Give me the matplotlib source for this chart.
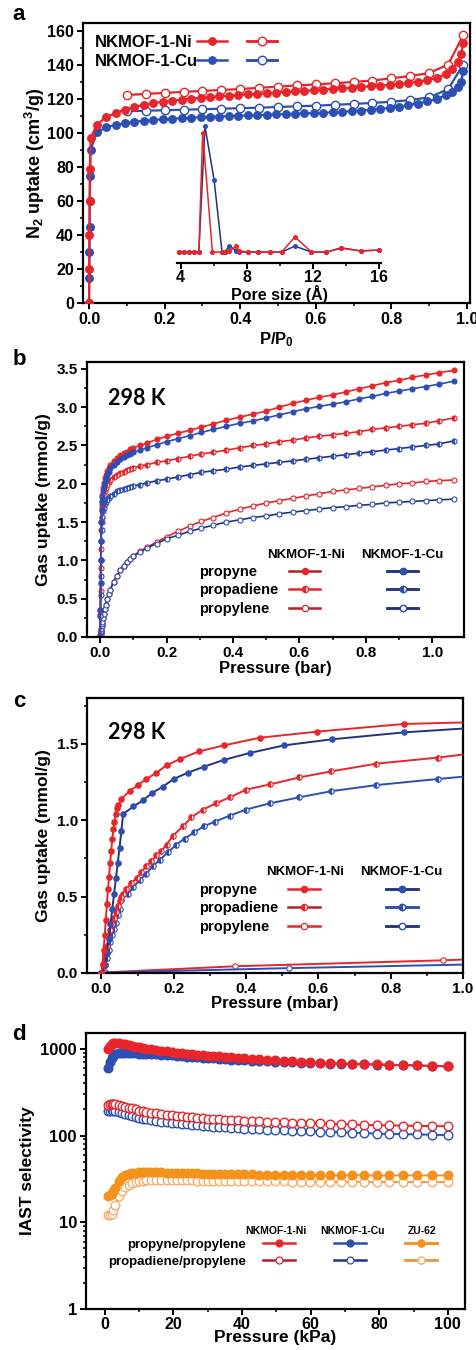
import matplotlib
matplotlib.use("Agg")
import matplotlib.pyplot as plt
from matplotlib.ticker import MultipleLocator, LogLocator, NullFormatter, FixedLocator
from matplotlib.lines import Line2D

plt.rcParams['font.family'] = ['Liberation Sans', 'DejaVu Sans']
plt.rcParams['font.weight'] = 'bold'
plt.rcParams['mathtext.fontset'] = 'custom'
plt.rcParams['mathtext.rm'] = 'Liberation Sans:bold'
plt.rcParams['mathtext.bf'] = 'Liberation Sans:bold'
plt.rcParams['mathtext.default'] = 'bf'

RED = '#e8252b'
DRED = '#b3202a'
BLUE = '#2c4fb4'
DBLUE = '#23347f'
ORANGE = '#f5921e'
LORANGE = '#f4b06a'

# ---------------- Panel a data ----------------
a_ni_ads_p = [0.0, 0.0005, 0.001, 0.0015, 0.002, 0.004, 0.02, 0.045, 0.07, 0.095, 0.12, 0.145, 0.17, 0.195,
              0.22, 0.245, 0.27, 0.295, 0.32, 0.345, 0.37, 0.395, 0.42, 0.445, 0.47, 0.495, 0.52, 0.545,
              0.57, 0.595, 0.62, 0.645, 0.67, 0.695, 0.72, 0.745, 0.77, 0.795, 0.82, 0.845, 0.87, 0.895,
              0.92, 0.945, 0.96, 0.975, 0.985, 0.99]
a_ni_ads_v = [0, 20, 40, 60, 79, 97, 105, 109.5, 112, 114, 115.5, 116.8, 117.8, 118.6,
              119.3, 119.9, 120.4, 120.9, 121.3, 121.7, 122.1, 122.5, 122.9, 123.2, 123.6, 124.0, 124.3, 124.7,
              125.0, 125.4, 125.8, 126.1, 126.5, 126.9, 127.3, 127.7, 128.1, 128.6, 129.1, 129.7, 130.4, 131.3,
              132.6, 135, 138, 142, 147, 153]
a_ni_des_p = [0.1, 0.15, 0.2, 0.25, 0.3, 0.35, 0.4, 0.45, 0.5, 0.55, 0.6, 0.65, 0.7, 0.75, 0.8, 0.85, 0.9, 0.95, 0.99]
a_ni_des_v = [122.6, 123.2, 123.8, 124.4, 125.0, 125.5, 126.1, 126.8, 127.5, 128.2, 128.8, 129.5, 130.3, 131.1,
              132.4, 133.8, 135.5, 140.5, 157.7]
a_cu_ads_p = [0.0, 0.0005, 0.001, 0.0015, 0.002, 0.003, 0.004, 0.02, 0.045, 0.07, 0.095, 0.12, 0.145, 0.17, 0.195,
              0.22, 0.245, 0.27, 0.295, 0.32, 0.345, 0.37, 0.395, 0.42, 0.445, 0.47, 0.495, 0.52, 0.545,
              0.57, 0.595, 0.62, 0.645, 0.67, 0.695, 0.72, 0.745, 0.77, 0.795, 0.82, 0.845, 0.87, 0.895,
              0.92, 0.945, 0.96, 0.975, 0.985, 0.99]
a_cu_ads_v = [0, 15, 30, 45, 60, 75, 90, 100.5, 103.5, 105, 106, 106.8, 107.4, 107.9, 108.3,
              108.6, 108.9, 109.2, 109.5, 109.7, 109.9, 110.1, 110.3, 110.5, 110.7, 110.9, 111.1, 111.3, 111.5,
              111.7, 111.9, 112.1, 112.4, 112.7, 113.0, 113.4, 113.9, 114.4, 115.0, 115.7, 116.5, 117.5, 118.8,
              120.3, 122.5, 124.5, 127, 130, 137]
a_cu_des_p = [0.1, 0.15, 0.2, 0.25, 0.3, 0.35, 0.4, 0.45, 0.5, 0.55, 0.6, 0.65, 0.7, 0.75, 0.8, 0.85, 0.9, 0.95, 0.99]
a_cu_des_v = [113.0, 113.3, 113.6, 113.9, 114.2, 114.5, 114.8, 115.1, 115.5, 115.9, 116.3, 116.8, 117.3, 117.9,
              118.6, 119.6, 121.2, 126.0, 140.5]

# inset: pore size distribution (arbitrary units)
psd_cu_x = [3.92, 4.2, 4.5, 4.8, 5.1, 5.47, 6.02, 6.5, 6.66, 6.95, 7.37, 7.5, 8.04, 8.67, 9.37, 10.1, 10.9,
            11.9, 12.8, 13.7, 14.9, 16.0]
psd_cu_y = [0, 0, 0, 0, 0, 1.0, 0.574, 0, 0, 0.047, 0.01, 0, 0, 0, 0, 0, 0.047, 0, 0, 0.034, 0.008, 0.016]
psd_ni_x = [3.92, 4.2, 4.5, 4.8, 5.1, 5.33, 5.92, 6.5, 6.66, 6.95, 7.37, 7.5, 8.04, 8.67, 9.37, 10.1, 10.9,
            11.9, 12.8, 13.7, 14.9, 16.0]
psd_ni_y = [0, 0, 0, 0, 0, 0.947, 0, 0, 0, 0.01, 0.047, 0.01, 0, 0, 0, 0, 0.12, 0, 0, 0.03, 0.01, 0.016]

# ---------------- Panel b data ----------------
b_p = [0.0, 0.0005, 0.001, 0.0015, 0.002, 0.003, 0.004, 0.005, 0.006, 0.008, 0.010, 0.013, 0.016, 0.02,
       0.025, 0.03, 0.04, 0.05, 0.06, 0.07, 0.08, 0.09, 0.10, 0.12, 0.14, 0.17, 0.20, 0.235, 0.27, 0.305,
       0.34, 0.38, 0.42, 0.46, 0.50, 0.54, 0.58, 0.62, 0.66, 0.70, 0.74, 0.78, 0.82, 0.86, 0.90, 0.94,
       0.98, 1.02, 1.065]
b_ni_propyne = [0, 0.35, 0.7, 1.0, 1.25, 1.5, 1.68, 1.78, 1.86, 1.95, 2.01, 2.07, 2.12, 2.17,
                2.21, 2.25, 2.30, 2.34, 2.37, 2.40, 2.42, 2.45, 2.47, 2.50, 2.53, 2.58, 2.62, 2.66, 2.70, 2.74,
                2.78, 2.83, 2.87, 2.91, 2.95, 3.0, 3.05, 3.09, 3.13, 3.16, 3.20, 3.24, 3.28, 3.32, 3.35, 3.39,
                3.42, 3.45, 3.48]
b_cu_propyne = [0, 0.35, 0.7, 1.0, 1.25, 1.5, 1.66, 1.76, 1.83, 1.91, 1.97, 2.02, 2.07, 2.12,
                2.16, 2.20, 2.25, 2.29, 2.32, 2.35, 2.37, 2.39, 2.41, 2.44, 2.47, 2.51, 2.55, 2.59, 2.63, 2.67,
                2.71, 2.75, 2.79, 2.82, 2.86, 2.90, 2.94, 2.98, 3.01, 3.04, 3.07, 3.11, 3.14, 3.18, 3.21, 3.24,
                3.27, 3.30, 3.34]
b_ni_propadiene = [0, 0.3, 0.6, 0.9, 1.15, 1.40, 1.55, 1.65, 1.72, 1.80, 1.86, 1.91, 1.95, 1.99,
                   2.02, 2.05, 2.09, 2.12, 2.14, 2.16, 2.18, 2.19, 2.21, 2.23, 2.25, 2.28, 2.30, 2.33, 2.36, 2.39,
                   2.41, 2.44, 2.47, 2.50, 2.52, 2.55, 2.57, 2.60, 2.62, 2.64, 2.66, 2.68, 2.71, 2.73, 2.75, 2.77,
                   2.79, 2.82, 2.86]
b_cu_propadiene = [0, 0.28, 0.55, 0.8, 1.0, 1.25, 1.4, 1.5, 1.57, 1.64, 1.69, 1.73, 1.76, 1.79,
                   1.82, 1.84, 1.87, 1.90, 1.92, 1.93, 1.95, 1.96, 1.97, 1.99, 2.01, 2.04, 2.06, 2.09, 2.12, 2.15,
                   2.17, 2.19, 2.22, 2.24, 2.26, 2.28, 2.30, 2.32, 2.34, 2.36, 2.38, 2.40, 2.42, 2.44, 2.46, 2.48,
                   2.50, 2.52, 2.56]
b_ni_propylene = [0, 0.02, 0.04, 0.06, 0.08, 0.1, 0.14, 0.17, 0.2, 0.25, 0.3, 0.36, 0.42, 0.49,
                  0.56, 0.62, 0.72, 0.80, 0.87, 0.93, 0.98, 1.02, 1.06, 1.12, 1.17, 1.24, 1.31, 1.38, 1.45, 1.51,
                  1.56, 1.62, 1.67, 1.71, 1.75, 1.78, 1.81, 1.84, 1.87, 1.90, 1.92, 1.94, 1.96, 1.98, 2.00, 2.01,
                  2.03, 2.04, 2.05]
b_cu_propylene = [0, 0.02, 0.04, 0.06, 0.08, 0.1, 0.14, 0.17, 0.2, 0.25, 0.3, 0.36, 0.42, 0.49,
                  0.56, 0.62, 0.72, 0.80, 0.87, 0.93, 0.98, 1.02, 1.06, 1.11, 1.16, 1.22, 1.28, 1.33, 1.38, 1.42,
                  1.46, 1.50, 1.53, 1.56, 1.58, 1.61, 1.63, 1.65, 1.67, 1.69, 1.70, 1.72, 1.73, 1.75, 1.76, 1.77,
                  1.78, 1.79, 1.80]

# ---------------- Panel c data ----------------
c_ni_propyne_p = [0, 0.003, 0.006, 0.009, 0.012, 0.015, 0.018, 0.021, 0.024, 0.027, 0.030, 0.033, 0.036, 0.039,
                  0.042, 0.047, 0.055, 0.078, 0.101, 0.124, 0.152, 0.18, 0.217, 0.269, 0.339, 0.438, 0.597,
                  0.837, 1.0]
c_ni_propyne_v = [0, 0.06, 0.15, 0.25, 0.35, 0.45, 0.55, 0.63, 0.72, 0.80, 0.88, 0.94, 0.99, 1.04,
                  1.08, 1.10, 1.14, 1.19, 1.23, 1.27, 1.31, 1.36, 1.40, 1.45, 1.49, 1.54, 1.58, 1.63, 1.64]
c_cu_propyne_p = [0, 0.01, 0.015, 0.02, 0.025, 0.03, 0.035, 0.04, 0.045, 0.05, 0.055, 0.06, 0.088, 0.115,
                  0.141, 0.17, 0.2, 0.238, 0.283, 0.339, 0.41, 0.505, 0.639, 0.837, 1.0]
c_cu_propyne_v = [0, 0.05, 0.13, 0.22, 0.32, 0.42, 0.52, 0.62, 0.72, 0.82, 0.93, 1.04, 1.09, 1.13,
                  1.18, 1.22, 1.27, 1.31, 1.35, 1.395, 1.44, 1.49, 1.53, 1.575, 1.60]
c_ni_propadiene_p = [0, 0.005, 0.01, 0.015, 0.02, 0.025, 0.03, 0.035, 0.04, 0.045, 0.05, 0.055, 0.06, 0.069,
                     0.083, 0.097, 0.11, 0.124, 0.138, 0.152, 0.166, 0.18, 0.198, 0.226, 0.249, 0.281, 0.316,
                     0.355, 0.40, 0.467, 0.547, 0.636, 0.76, 0.931, 1.0]
c_ni_propadiene_v = [0, 0.05, 0.12, 0.18, 0.23, 0.28, 0.32, 0.36, 0.40, 0.44, 0.47, 0.50, 0.52, 0.55,
                     0.59, 0.62, 0.66, 0.70, 0.73, 0.77, 0.80, 0.84, 0.90, 0.96, 1.02, 1.07, 1.11,
                     1.15, 1.20, 1.235, 1.28, 1.32, 1.37, 1.41, 1.43]
c_cu_propadiene_p = [0, 0.01, 0.015, 0.02, 0.025, 0.03, 0.035, 0.04, 0.045, 0.05, 0.055, 0.074, 0.088, 0.106,
                     0.124, 0.143, 0.161, 0.184, 0.207, 0.23, 0.256, 0.283, 0.313, 0.355, 0.40, 0.465, 0.547,
                     0.636, 0.76, 0.931, 1.0]
c_cu_propadiene_v = [0, 0.05, 0.10, 0.15, 0.20, 0.25, 0.29, 0.33, 0.38, 0.42, 0.48, 0.52, 0.56, 0.61,
                     0.65, 0.70, 0.74, 0.79, 0.84, 0.88, 0.92, 0.96, 0.99, 1.03, 1.07, 1.11, 1.15,
                     1.19, 1.23, 1.27, 1.285]
c_ni_propylene_p = [0, 0.005, 0.01, 0.369, 0.945, 1.0]
c_ni_propylene_v = [0, 0.002, 0.004, 0.044, 0.083, 0.088]
c_cu_propylene_p = [0, 0.005, 0.01, 0.52, 1.0]
c_cu_propylene_v = [0, 0.001, 0.003, 0.032, 0.055]

# ---------------- Panel d data ----------------
d_p = [1, 1.5, 2, 2.5, 3, 4, 5, 6, 7, 8, 9, 10, 11, 12, 13.5, 15, 16.5, 18, 19.5, 21, 22.5, 24, 25.5, 27,
       28.5, 30, 31.6, 33.3, 35, 36.8, 38.7, 40.7, 42.8, 45, 47.3, 49.7, 52.1, 54.7, 57.3, 59.9, 62.8, 65.7,
       68.9, 72.1, 75.5, 79.2, 82.8, 86.9, 91.0, 95.4, 100]
d_ni_yne = [1000, 1080, 1140, 1170, 1180, 1170, 1150, 1125, 1100, 1080, 1055, 1035, 1020, 1005, 985, 965,
            950, 935, 920, 905, 890, 878, 866, 855, 845, 835, 826, 817, 808, 800, 790, 778, 768, 758, 746,
            733, 724, 715, 707, 699, 692, 685, 679, 673, 667, 660, 654, 649, 643, 635, 626]
d_cu_yne = [600, 700, 780, 830, 865, 890, 893, 893, 890, 887, 884, 880, 876, 872, 866, 860, 853, 846, 838,
            830, 822, 813, 805, 797, 789, 780, 773, 766, 759, 752, 745, 737, 730, 723, 715, 705, 700, 695,
            690, 685, 680, 675, 670, 666, 662, 658, 654, 648, 642, 634, 626]
d_zu_yne = [20, 20.5, 21, 23, 25, 30, 33.5, 35, 36, 36.8, 37.3, 37.8, 38, 38, 38, 37.8, 37.6, 37.4, 37.2,
            37, 36.8, 36.7, 36.6, 36.5, 36.4, 36.3, 36.2, 36.1, 36, 35.9, 35.8, 35.7, 35.6, 35.5, 35.4, 35.3,
            35.2, 35.1, 35.0, 35, 34.9, 34.9, 34.8, 34.8, 34.8, 34.7, 34.7, 34.7, 34.7, 34.7, 34.7]
d_ni_diene = [223, 228, 231, 230, 228, 224, 220, 215, 210, 205, 200, 194, 191, 188, 184, 180, 177, 174, 172,
              169, 166, 164, 162, 160, 158, 157, 155, 153.5, 152, 150.5, 149.5, 148.5, 147, 146, 144.5, 143,
              142, 141, 140, 139, 138, 136.5, 135, 134, 132.5, 131.5, 130.5, 130, 129, 128.5, 128]
d_cu_diene = [190, 194, 195, 194, 192, 188, 183, 178, 173, 168, 164, 160, 157, 154, 151, 148, 145, 143, 141,
              139, 137, 135, 133, 131.5, 130, 128.5, 127, 125.5, 124, 123, 121.5, 120, 119, 118, 117, 116,
              115, 114, 113, 112, 111, 110, 109, 108, 107, 105, 104.5, 103.5, 103, 102, 101]
d_zu_diene = [12.1, 12.2, 12.3, 14, 16, 20, 23, 25.5, 27, 28.5, 29.3, 29.8, 30.1, 30.3, 30.4, 30.5, 30.5,
              30.5, 30.5, 30.4, 30.4, 30.3, 30.3, 30.2, 30.2, 30.1, 30.1, 30, 30, 29.9, 29.9, 29.8, 29.8, 29.7,
              29.7, 29.6, 29.6, 29.5, 29.5, 29.4, 29.4, 29.3, 29.3, 29.2, 29.2, 29.2, 29.1, 29.1, 29.1, 29.1, 29.1]

a_rows = ['NKMOF-1-Ni', 'NKMOF-1-Cu']
b_rows = ['propyne', 'propadiene', 'propylene']
mof_headers = ['NKMOF-1-Ni', 'NKMOF-1-Cu']
d_rows = ['propyne/propylene', 'propadiene/propylene']
d_headers = ['NKMOF-1-Ni', 'NKMOF-1-Cu', 'ZU-62']

# ---------------- Figure ----------------
W, H = 476, 1350
fig = plt.figure(figsize=(W / 100, H / 100), dpi=100)


def px_axes(l, t, r, b):
    return fig.add_axes([l / W, 1 - b / H, (r - l) / W, (b - t) / H])


def style(ax, fs=11.5):
    for s in ax.spines.values():
        s.set_linewidth(1.6)
    ax.tick_params(which='major', direction='out', length=4, width=1.4, labelsize=fs,
                   top=False, right=False, pad=2.5)
    ax.tick_params(which='minor', direction='out', length=2.5, width=1.1, top=False, right=False)
    for lab in ax.get_xticklabels() + ax.get_yticklabels():
        lab.set_fontweight('bold')


def row_legend(ax, labels, x, top, fs, ls, right=False):
    hs = [Line2D([], [], lw=0) for _ in labels]
    leg = ax.legend(handles=hs, labels=labels, loc=('upper right' if right else 'upper left'),
                    bbox_to_anchor=(x, top), frameon=False, markerfirst=not right,
                    handlelength=0, handletextpad=0, labelspacing=ls, borderpad=0, borderaxespad=0,
                    prop={'weight': 'bold', 'size': fs})
    ax.add_artist(leg)


def handle_legend(ax, handles, x, top, fs, ls, hl):
    leg = ax.legend(handles=handles, labels=[''] * len(handles), loc='upper left',
                    bbox_to_anchor=(x, top), frameon=False, handlelength=hl, handletextpad=0,
                    labelspacing=ls, borderpad=0, borderaxespad=0,
                    prop={'weight': 'bold', 'size': fs})
    ax.add_artist(leg)


def hd(col, lcol, kind, ms):
    kw = dict(color=lcol, marker='o', ms=ms, mec=col, lw=1.8, mew=0.9)
    if kind == 'full':
        return Line2D([], [], mfc=col, **kw)
    if kind == 'half':
        return Line2D([], [], mfc=col, fillstyle='left', markerfacecoloralt='white', **kw)
    return Line2D([], [], mfc='white', **kw)


# ===== Panel a =====
axa = px_axes(83, 23, 470, 303)
ms_a = 5.4
axa.plot(a_ni_ads_p, a_ni_ads_v, '-o', color=RED, mfc=RED, mec=RED, ms=ms_a, lw=1.6, zorder=4)
axa.plot(a_ni_des_p, a_ni_des_v, '-o', color=RED, mfc='white', mec=RED, ms=ms_a + 0.6, mew=1.0, lw=1.6, zorder=3)
axa.plot(a_cu_des_p, a_cu_des_v, '-o', color=BLUE, mfc='white', mec=BLUE, ms=ms_a + 0.6, mew=1.0, lw=1.6, zorder=2)
axa.plot(a_cu_ads_p, a_cu_ads_v, '-o', color=BLUE, mfc=BLUE, mec=BLUE, ms=ms_a, lw=1.6, zorder=3)
axa.set_xlim(-0.016, 1.008)
axa.set_ylim(0, 165)
axa.xaxis.set_major_locator(MultipleLocator(0.2))
axa.xaxis.set_minor_locator(MultipleLocator(0.1))
axa.yaxis.set_major_locator(MultipleLocator(20))
axa.yaxis.set_minor_locator(MultipleLocator(10))
style(axa, 11.5)
axa.set_xlabel('P/P$_0$', fontsize=12, fontweight='bold', labelpad=2)
axa.set_ylabel('N$_2$ uptake (cm$^3$/g)', fontsize=13, fontweight='bold', labelpad=0)
row_legend(axa, a_rows, 0.031, 0.956, 12, 0.2)
handle_legend(axa, [hd(RED, RED, 'full', ms_a), hd(BLUE, BLUE, 'full', ms_a)], 0.295, 0.956, 12, 0.2, 1.8)
handle_legend(axa, [hd(RED, RED, 'open', ms_a + 0.6), hd(BLUE, BLUE, 'open', ms_a + 0.6)],
              0.424, 0.956, 12, 0.2, 1.8)

# inset
axi = px_axes(177, 120, 381, 263)
axi.set_facecolor('none')
axi.plot(psd_cu_x, psd_cu_y, '-o', color=DBLUE, mfc=BLUE, mec=BLUE, ms=2.6, lw=1.1, zorder=2)
axi.plot(psd_ni_x, psd_ni_y, '-o', color=RED, mfc=RED, mec=RED, ms=2.6, lw=1.1, zorder=3)
axi.set_xlim(3.78, 16.1)
axi.set_ylim(-0.087, 1.05)
for s in ['left', 'right', 'top']:
    axi.spines[s].set_visible(False)
axi.yaxis.set_visible(False)
axi.xaxis.set_major_locator(FixedLocator([4, 8, 12, 16]))
axi.xaxis.set_minor_locator(FixedLocator([6, 10, 14]))
style(axi, 11.5)
axi.tick_params(axis='x', pad=1)
axi.set_xlabel('Pore size (Å)', fontsize=11.5, fontweight='bold', labelpad=0)

fig.text(19 / W, 1 - 14 / H, 'a', fontsize=16, fontweight='bold', va='center', ha='center')


# ===== Panel b =====
def isotherm_panel(ax, series, ms):
    for x, y, col, lcol, kind in series:
        kw = dict(color=lcol, ms=ms, lw=1.2, mew=0.8, mec=col)
        if kind == 'full':
            ax.plot(x, y, '-o', mfc=col, **kw)
        elif kind == 'half':
            ax.plot(x, y, '-o', mfc=col, fillstyle='left', markerfacecoloralt='white', **kw)
        else:
            ax.plot(x, y, '-o', mfc='white', **kw)


axb = px_axes(87, 362, 464, 637)
ms_b = 3.6
isotherm_panel(axb, [
    (b_p, b_ni_propylene, RED, RED, 'open'),
    (b_p, b_cu_propylene, BLUE, DBLUE, 'open'),
    (b_p, b_ni_propadiene, RED, RED, 'half'),
    (b_p, b_cu_propadiene, BLUE, DBLUE, 'half'),
    (b_p, b_ni_propyne, RED, RED, 'full'),
    (b_p, b_cu_propyne, BLUE, BLUE, 'full'),
], ms_b)
axb.set_xlim(-0.04, 1.096)
axb.set_ylim(0, 3.59)
axb.xaxis.set_major_locator(MultipleLocator(0.2))
axb.xaxis.set_minor_locator(MultipleLocator(0.1))
axb.yaxis.set_major_locator(MultipleLocator(0.5))
axb.yaxis.set_minor_locator(MultipleLocator(0.25))
style(axb, 11)
axb.set_xlabel('Pressure (bar)', fontsize=12, fontweight='bold', labelpad=1)
axb.set_ylabel('Gas uptake (mmol/g)', fontsize=12.5, fontweight='bold', labelpad=4)
axb.text(0.056, 0.869, '298 K', transform=axb.transAxes, fontsize=15.5, fontweight='bold',
         va='center', family=['Lato', 'DejaVu Sans'])
fig.text(19 / W, 1 - 360 / H, 'b', fontsize=16, fontweight='bold', va='center', ha='center')

ni_h = [hd(RED, DRED, 'full', 4.5), hd(RED, RED, 'half', 4.5), hd(RED, DRED, 'open', 4.5)]
cu_h = [hd(BLUE, DBLUE, 'full', 4.5), hd(BLUE, DBLUE, 'half', 4.5), hd(BLUE, DBLUE, 'open', 4.5)]
row_legend(axb, b_rows, 0.297, 0.262, 10.5, 0.3)
handle_legend(axb, ni_h, 0.536, 0.262, 10.5, 0.3, 2.15)
handle_legend(axb, cu_h, 0.796, 0.262, 10.5, 0.3, 2.15)
for hx, text in zip([0.581, 0.836], mof_headers):
    axb.text(hx, 0.298, text, transform=axb.transAxes, ha='center', va='center', fontsize=9.5,
             fontweight='bold')

# ===== Panel c =====
axc = px_axes(87, 698, 463, 973)
ms_c = 3.9


def mevery(n):
    return list(range(n - 1))


for x, y, col, lcol, kind, z in [
    (c_ni_propylene_p, c_ni_propylene_v, RED, RED, 'open', 2),
    (c_cu_propylene_p, c_cu_propylene_v, BLUE, BLUE, 'open', 2),
    (c_cu_propadiene_p, c_cu_propadiene_v, BLUE, BLUE, 'half', 3),
    (c_ni_propadiene_p, c_ni_propadiene_v, RED, RED, 'half', 3),
    (c_cu_propyne_p, c_cu_propyne_v, BLUE, DBLUE, 'full', 4),
    (c_ni_propyne_p, c_ni_propyne_v, RED, RED, 'full', 4),
]:
    kw = dict(color=lcol, ms=ms_c, lw=1.4, mew=0.8, mec=col, markevery=mevery(len(x)), zorder=z)
    if kind == 'full':
        axc.plot(x, y, '-o', mfc=col, **kw)
    elif kind == 'half':
        axc.plot(x, y, '-o', mfc=col, fillstyle='left', markerfacecoloralt='white', **kw)
    else:
        axc.plot(x, y, '-o', mfc='white', **kw)
axc.set_xlim(-0.04, 1.0)
axc.set_ylim(0, 1.8)
axc.xaxis.set_major_locator(MultipleLocator(0.2))
axc.xaxis.set_minor_locator(MultipleLocator(0.1))
axc.yaxis.set_major_locator(MultipleLocator(0.5))
axc.yaxis.set_minor_locator(MultipleLocator(0.25))
style(axc, 11)
axc.set_xlabel('Pressure (mbar)', fontsize=12, fontweight='bold', labelpad=0)
axc.set_ylabel('Gas uptake (mmol/g)', fontsize=12.5, fontweight='bold', labelpad=4)
axc.text(0.056, 0.876, '298 K', transform=axc.transAxes, fontsize=15.5, fontweight='bold',
         va='center', family=['Lato', 'DejaVu Sans'])
fig.text(19 / W, 1 - 701 / H, 'c', fontsize=16, fontweight='bold', va='center', ha='center')
ni_hc = [hd(RED, RED, 'full', 4.5), hd(RED, DRED, 'half', 4.5), hd(RED, RED, 'open', 4.5)]
cu_hc = [hd(BLUE, DBLUE, 'full', 4.5), hd(BLUE, BLUE, 'half', 4.5), hd(BLUE, DBLUE, 'open', 4.5)]
row_legend(axc, b_rows, 0.298, 0.328, 10.5, 0.32)
handle_legend(axc, ni_hc, 0.535, 0.328, 10.5, 0.32, 2.2)
handle_legend(axc, cu_hc, 0.795, 0.328, 10.5, 0.32, 2.2)
for hx, text in zip([0.581, 0.836], mof_headers):
    axc.text(hx, 0.367, text, transform=axc.transAxes, ha='center', va='center', fontsize=9.5,
             fontweight='bold')

# ===== Panel d =====
axd = px_axes(86, 1033, 465, 1309)
ms_d = 6.2
for y, col, lcol, filled, z in [
    (d_zu_diene, LORANGE, '#e89a45', False, 2),
    (d_zu_yne, ORANGE, ORANGE, True, 3),
    (d_cu_diene, BLUE, BLUE, False, 2),
    (d_ni_diene, RED, RED, False, 3),
    (d_cu_yne, BLUE, BLUE, True, 4),
    (d_ni_yne, RED, RED, True, 5),
]:
    axd.plot(d_p, y, '-o', color=lcol, mec=col, mfc=(col if filled else 'white'), ms=ms_d,
             mew=1.0, lw=1.4, zorder=z)
axd.set_yscale('log')
axd.set_xlim(-5.5, 105)
axd.set_ylim(1, 1520)
axd.xaxis.set_major_locator(MultipleLocator(20))
axd.xaxis.set_minor_locator(MultipleLocator(10))
axd.yaxis.set_major_locator(LogLocator(base=10))
axd.yaxis.set_minor_locator(LogLocator(base=10, subs=range(2, 10)))
axd.yaxis.set_minor_formatter(NullFormatter())
axd.set_yticks([1, 10, 100, 1000])
axd.set_yticklabels(['1', '10', '100', '1000'])
style(axd, 12)
axd.tick_params(axis='x', labelsize=11.5, pad=1.5)
axd.set_xlabel('Pressure (kPa)', fontsize=12.5, fontweight='bold', labelpad=-1)
axd.set_ylabel('IAST selectivity', fontsize=12.5, fontweight='bold', labelpad=4)
fig.text(19 / W, 1 - 1034 / H, 'd', fontsize=16, fontweight='bold', va='center', ha='center')
ni_hd = [hd(RED, RED, 'full', 5), hd(RED, DRED, 'open', 5)]
cu_hd = [hd(BLUE, BLUE, 'full', 5), hd(BLUE, DBLUE, 'open', 5)]
zu_hd = [hd(ORANGE, ORANGE, 'full', 5), hd(LORANGE, '#e89a45', 'open', 5)]
row_legend(axd, d_rows, 0.422, 0.256, 9.5, 0.4, right=True)
for xh, hs in zip([0.467, 0.654, 0.842], [ni_hd, cu_hd, zu_hd]):
    handle_legend(axd, hs, xh, 0.256, 9.5, 0.4, 2.4)
for hx, text in zip([0.501, 0.704, 0.887], d_headers):
    axd.text(hx, 0.282, text, transform=axd.transAxes, ha='center', va='center', fontsize=7.5,
             fontweight='bold')

fig.savefig('out.png', dpi=100)
